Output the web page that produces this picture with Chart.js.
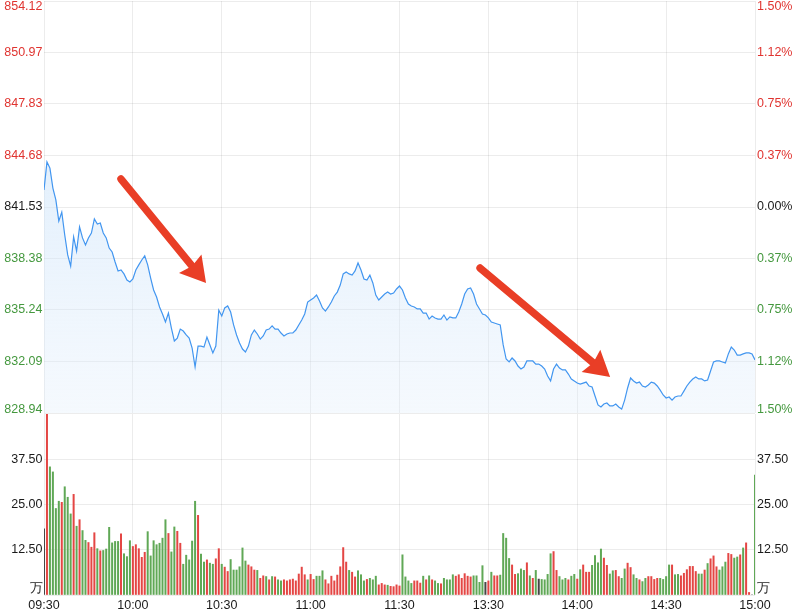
<!DOCTYPE html>
<html>
<head>
<meta charset="utf-8">
<script src="https://cdn.jsdelivr.net/npm/chart.js@4.4.1/dist/chart.umd.min.js"></script>
<style>
  html, body { margin: 0; padding: 0; background: #fff; }
  #wrap { position: relative; width: 800px; height: 615px; }
  #priceBox { position: absolute; left: 0; top: 0; width: 800px; height: 414px; }
  #volBox { position: absolute; left: 0; top: 405px; width: 800px; height: 210px; }
</style>
</head>
<body>
<div id="wrap">
  <div id="priceBox"><canvas id="price"></canvas></div>
  <div id="volBox"><canvas id="volume"></canvas></div>
</div>
<script>
// minute index 0 = 09:30, 120 = 11:30/13:00, 240 = 15:00
const timeTicks = [0, 30, 60, 90, 120, 150, 180, 210, 240];
const timeLabels = ['09:30', '10:00', '10:30', '11:00', '11:30', '13:30', '14:00', '14:30', '15:00'];

const preClose = 841.53;
const priceTicks = [854.12, 850.97, 847.83, 844.68, 841.53, 838.38, 835.24, 832.09, 828.94];
const pctLabels = ['1.50%', '1.12%', '0.75%', '0.37%', '0.00%', '0.37%', '0.75%', '1.12%', '1.50%'];

const volumeTicks = [0, 12.5, 25, 37.5];
const volumeLabels = ['万', '12.50', '25.00', '37.50'];

const prices = [
  842.57, 844.28, 843.91, 842.69, 841.96, 840.67, 841.22, 839.82, 838.60, 837.92,
  839.70, 838.84, 840.31, 839.64, 839.21, 839.64, 839.94, 840.80, 840.49, 840.55,
  839.94, 839.64, 839.02, 838.78, 838.17, 837.62, 837.68, 837.44, 837.07, 836.95,
  837.13, 837.68, 837.99, 838.29, 838.54, 837.99, 837.19, 836.46, 836.03, 835.42,
  834.99, 834.50, 835.05, 834.13, 833.34, 833.52, 834.07, 833.95, 833.71, 833.52,
  832.91, 831.75, 833.03, 833.03, 832.97, 833.58, 833.10, 832.61, 833.03, 835.23,
  834.87, 835.36, 835.48, 835.11, 834.32, 833.71, 833.22, 832.85, 832.67, 833.03,
  833.71, 834.01, 833.77, 833.46, 833.65, 834.01, 834.07, 834.26, 834.07, 834.07,
  833.83, 833.65, 833.77, 833.83, 833.83, 834.01, 834.32, 834.62, 834.99, 835.72,
  835.85, 835.97, 836.15, 835.78, 835.36, 835.17, 835.42, 835.72, 836.09, 836.33,
  836.76, 837.44, 837.56, 837.44, 837.37, 837.62, 838.11, 837.68, 837.13, 837.07,
  837.37, 836.89, 836.15, 835.85, 836.03, 836.21, 836.33, 836.21, 836.27, 836.52,
  836.70, 836.46, 835.97, 835.60, 835.48, 835.42, 835.30, 835.30, 835.05, 835.05,
  834.68, 834.87, 834.75, 834.68, 834.68, 834.93, 834.62, 834.81, 834.75, 834.75,
  835.11, 835.60, 836.21, 836.52, 836.58, 836.21, 835.60, 835.30, 834.99, 834.93,
  834.75, 834.50, 834.44, 834.38, 834.32, 833.10, 832.24, 832.06, 832.30, 832.12,
  831.81, 831.63, 831.75, 832.12, 832.12, 832.12, 831.93, 831.93, 831.81, 831.63,
  831.20, 830.90, 831.63, 831.93, 831.69, 831.57, 831.57, 831.32, 831.02, 830.90,
  830.77, 830.71, 830.77, 830.83, 830.59, 830.53, 829.98, 829.43, 829.31, 829.49,
  829.55, 829.37, 829.37, 829.49, 829.31, 829.18, 829.73, 830.47, 831.08, 830.90,
  830.77, 830.83, 830.59, 830.53, 830.65, 830.83, 830.77, 830.59, 830.34, 830.04,
  829.86, 829.92, 829.73, 829.92, 829.98, 829.98, 830.28, 830.59, 830.83, 831.02,
  831.14, 831.02, 831.02, 830.90, 830.96, 831.51, 832.06, 832.12, 832.12, 832.06,
  832.00, 832.55, 832.97, 832.79, 832.48, 832.48, 832.55, 832.61, 832.61, 832.55,
  832.18
];

// volume in 万, per minute
const volumes = [
  18.3, 50.0, 35.4, 34.0, 23.9, 25.9, 25.6, 29.9, 27.0, 22.4,
  27.8, 19.0, 20.8, 17.8, 15.1, 14.5, 13.2, 17.2, 12.8, 12.2,
  12.3, 12.7, 18.7, 14.4, 14.8, 14.8, 16.9, 11.4, 10.6, 15.0,
  13.4, 13.9, 12.8, 10.4, 11.8, 17.5, 10.8, 15.0, 13.9, 14.3,
  15.7, 20.8, 17.0, 11.9, 18.8, 17.6, 14.3, 8.5, 11.0, 9.7,
  14.9, 25.9, 22.0, 11.3, 9.1, 9.7, 8.8, 8.5, 10.0, 12.8,
  8.5, 7.7, 6.5, 9.8, 6.9, 6.9, 7.8, 13.0, 9.4, 8.3,
  7.8, 6.9, 6.8, 4.6, 5.3, 5.1, 4.2, 5.1, 5.0, 4.2,
  3.9, 4.2, 3.9, 4.2, 4.4, 3.9, 5.8, 7.7, 5.6, 4.2,
  5.7, 4.3, 5.2, 5.2, 6.7, 4.2, 3.1, 5.2, 3.9, 5.5,
  7.8, 13.1, 9.1, 6.8, 6.3, 5.0, 6.7, 5.6, 3.9, 4.3,
  4.6, 4.2, 5.2, 2.8, 3.2, 2.8, 2.7, 2.4, 2.3, 2.8,
  2.5, 11.1, 5.0, 3.9, 3.2, 3.9, 3.9, 3.3, 5.2, 4.2,
  5.3, 4.2, 3.9, 3.2, 3.1, 4.6, 4.2, 4.2, 5.6, 5.2,
  5.6, 4.6, 5.9, 5.2, 5.0, 5.3, 5.3, 3.5, 8.1, 3.5,
  3.9, 6.3, 5.3, 5.3, 5.5, 17.0, 15.7, 10.1, 8.3, 5.7,
  5.9, 7.2, 6.8, 8.9, 5.3, 4.6, 6.8, 4.4, 4.3, 4.2,
  5.7, 11.4, 12.0, 6.8, 5.1, 4.2, 4.6, 4.2, 5.2, 5.7,
  4.4, 7.0, 8.3, 6.3, 6.3, 8.2, 10.9, 8.9, 12.7, 10.2,
  8.2, 5.8, 6.7, 6.8, 5.1, 4.6, 7.2, 8.8, 7.6, 5.6,
  4.6, 4.2, 3.7, 4.6, 5.1, 5.1, 4.3, 4.6, 4.6, 4.3,
  5.1, 8.3, 8.3, 5.6, 5.7, 5.3, 6.0, 7.0, 7.9, 7.9,
  6.5, 5.8, 5.8, 6.9, 8.7, 10.0, 10.8, 7.8, 6.9, 7.8,
  9.1, 11.5, 11.2, 10.2, 10.5, 11.1, 13.0, 14.4, 0.7, 0,
  33.1
];

// 1 = up (red), -1 = down (green), 0 = flat (grey)
const volumeDir = [
   0,  1, -1, -1, -1, -1,  1, -1, -1, -1,
   1, -1,  1, -1, -1,  1,  1,  1, -1,  1,
  -1, -1, -1, -1, -1, -1,  1, -1, -1, -1,
   1,  1,  1,  1,  1, -1, -1, -1, -1, -1,
  -1, -1,  1, -1, -1,  1,  1, -1, -1, -1,
  -1, -1,  1, -1, -1,  1, -1, -1,  1,  1,
  -1,  1,  1, -1, -1, -1, -1, -1, -1,  1,
   1,  1, -1,  1,  1, -1,  1, -1,  1, -1,
  -1,  1,  1,  1,  1,  1,  1,  1,  1, -1,
   1,  1, -1, -1, -1,  1,  1,  1,  1,  1,
   1,  1,  1, -1,  1,  1, -1, -1, -1,  1,
  -1, -1, -1,  1,  1,  1, -1,  1,  1,  1,
   1, -1, -1, -1, -1,  1,  1,  1, -1,  1,
  -1,  1, -1, -1,  1, -1, -1, -1, -1,  1,
   1,  1,  1,  1,  1, -1, -1, -1, -1,  0,
   1, -1,  1,  1, -1, -1, -1, -1,  1,  1,
  -1, -1, -1,  1, -1,  1, -1,  0, -1, -1,
  -1, -1,  1,  1, -1, -1, -1,  1, -1, -1,
   1, -1,  1,  1,  1, -1, -1, -1, -1,  1,
   1, -1, -1,  1,  1, -1, -1,  1,  1, -1,
  -1,  1, -1, -1,  1,  1,  1,  1, -1, -1,
  -1, -1,  1, -1, -1,  1,  1,  1,  1,  1,
   1, -1, -1,  1, -1,  1,  1,  1, -1, -1,
  -1,  1,  1, -1, -1,  1, -1,  1,  1,  0,
  -1
];

// red annotation arrows, [minute, price]
const arrowNotes = [
  { from: [26.0, 843.24], to: [54.7, 836.88] },
  { from: [147.2, 837.80], to: [191.1, 831.14] }
];

const RED = 'rgb(224, 52, 48)';
const GREEN = 'rgb(68, 152, 62)';
const BLACK = '#1a1a1a';
const GRID = 'rgba(0, 0, 0, 0.075)';
const FONT = '"Liberation Sans", Arial, Helvetica, sans-serif';

Chart.defaults.font.family = FONT;
Chart.defaults.font.size = 12;

function priceColor(v) {
  if (Math.abs(v - preClose) < 0.005) return BLACK;
  return v > preClose ? RED : GREEN;
}

// y-axis texts on both sides, pulled inside at the top/bottom edges
const sideLabels = {
  id: 'sideLabels',
  afterDraw(chart, args, opts) {
    const { ctx, chartArea } = chart;
    const y = chart.scales.y;
    ctx.save();
    ctx.font = '12.5px ' + FONT;
    ctx.textBaseline = 'middle';
    opts.values.forEach((v, k) => {
      let py = y.getPixelForValue(v);
      py = Math.max(chartArea.top + opts.topInset, Math.min(chartArea.bottom - opts.bottomInset, py));
      ctx.fillStyle = opts.colors[k];
      ctx.textAlign = 'right';
      ctx.fillText(opts.left[k], chartArea.left - 1.5, py);
      ctx.textAlign = 'left';
      ctx.fillText(opts.right[k], chartArea.right + 2, py);
    });
    ctx.restore();
  }
};

const arrows = {
  id: 'arrows',
  afterDatasetsDraw(chart, args, opts) {
    const { ctx } = chart;
    const x = chart.scales.x, y = chart.scales.y;
    ctx.save();
    opts.items.forEach(a => {
      const x0 = x.getPixelForValue(a.from[0]), y0 = y.getPixelForValue(a.from[1]);
      const x1 = x.getPixelForValue(a.to[0]), y1 = y.getPixelForValue(a.to[1]);
      const ang = Math.atan2(y1 - y0, x1 - x0);
      const c = Math.cos(ang), s = Math.sin(ang);
      const head = 25, half = 14.5;
      const bx = x1 - head * c, by = y1 - head * s;
      ctx.strokeStyle = opts.color;
      ctx.fillStyle = opts.color;
      ctx.lineWidth = 7.5;
      ctx.lineCap = 'round';
      ctx.beginPath();
      ctx.moveTo(x0, y0);
      ctx.lineTo(bx + 3 * c, by + 3 * s);
      ctx.stroke();
      ctx.beginPath();
      ctx.moveTo(x1, y1);
      ctx.lineTo(bx - half * s, by + half * c);
      ctx.lineTo(bx + 3 * c, by + 3 * s);
      ctx.lineTo(bx + half * s, by - half * c);
      ctx.closePath();
      ctx.fill();
    });
    ctx.restore();
  }
};

const timeAxis = (showLabels) => ({
  type: 'linear',
  min: 0,
  max: 240,
  offset: false,
  afterBuildTicks: s => { s.ticks = timeTicks.map(v => ({ value: v })); },
  ticks: {
    display: showLabels,
    autoSkip: false,
    maxRotation: 0,
    padding: 3,
    color: BLACK,
    font: { size: 12.5 },
    callback: v => timeLabels[timeTicks.indexOf(v)]
  },
  grid: { color: GRID, drawTicks: false, offset: false },
  border: { display: false },
  afterFit: s => { s.height = showLabels ? 20 : 0; }
});

new Chart(document.getElementById('price'), {
  type: 'line',
  data: {
    datasets: [{
      data: prices.map((v, i) => ({ x: i, y: v })),
      borderColor: 'rgb(66, 150, 240)',
      borderWidth: 1.2,
      pointRadius: 0,
      tension: 0,
      fill: 'start',
      backgroundColor: c => {
        const area = c.chart.chartArea;
        if (!area) return 'rgba(0,0,0,0)';
        const g = c.chart.ctx.createLinearGradient(0, area.top, 0, area.bottom);
        g.addColorStop(0, 'rgba(196, 224, 250, 0.75)');
        g.addColorStop(1, 'rgba(222, 236, 251, 0.3)');
        return g;
      }
    }]
  },
  options: {
    responsive: true,
    maintainAspectRatio: false,
    animation: false,
    layout: { padding: { top: 1, right: 45, bottom: 1, left: 0 } },
    plugins: {
      legend: { display: false },
      tooltip: { enabled: false },
      sideLabels: {
        values: priceTicks,
        left: priceTicks.map(v => v.toFixed(2)),
        right: pctLabels,
        colors: priceTicks.map(priceColor),
        topInset: 6,
        bottomInset: 3
      },
      arrows: { items: arrowNotes, color: 'rgb(233, 62, 38)' }
    },
    scales: {
      x: timeAxis(false),
      y: {
        min: priceTicks[priceTicks.length - 1],
        max: priceTicks[0],
        afterBuildTicks: s => { s.ticks = priceTicks.map(v => ({ value: v })); },
        ticks: { display: false },
        grid: { color: GRID, drawTicks: false },
        border: { display: false },
        afterFit: s => { s.width = 44; }
      }
    }
  },
  plugins: [sideLabels, arrows]
});

const dirColor = d => d > 0 ? 'rgb(228, 70, 68)' : (d < 0 ? 'rgb(96, 168, 86)' : 'rgb(70, 70, 70)');

new Chart(document.getElementById('volume'), {
  type: 'bar',
  data: {
    datasets: [{
      data: volumes.map((v, i) => ({ x: i, y: v })),
      backgroundColor: volumeDir.map(dirColor),
      barThickness: 1.35,
      borderWidth: 0
    }]
  },
  options: {
    responsive: true,
    maintainAspectRatio: false,
    animation: false,
    layout: { padding: { top: 9, right: 45, bottom: 0, left: 0 } },
    plugins: {
      legend: { display: false },
      tooltip: { enabled: false },
      sideLabels: {
        values: volumeTicks,
        left: volumeLabels,
        right: volumeLabels,
        colors: volumeTicks.map(() => BLACK),
        topInset: 6,
        bottomInset: 6
      }
    },
    scales: {
      x: timeAxis(true),
      y: {
        min: 0,
        max: 50,
        afterBuildTicks: s => { s.ticks = volumeTicks.map(v => ({ value: v })); },
        ticks: { display: false },
        grid: { color: GRID, drawTicks: false },
        border: { display: false },
        afterFit: s => { s.width = 44; }
      }
    }
  },
  plugins: [sideLabels]
});
</script>
</body>
</html>
